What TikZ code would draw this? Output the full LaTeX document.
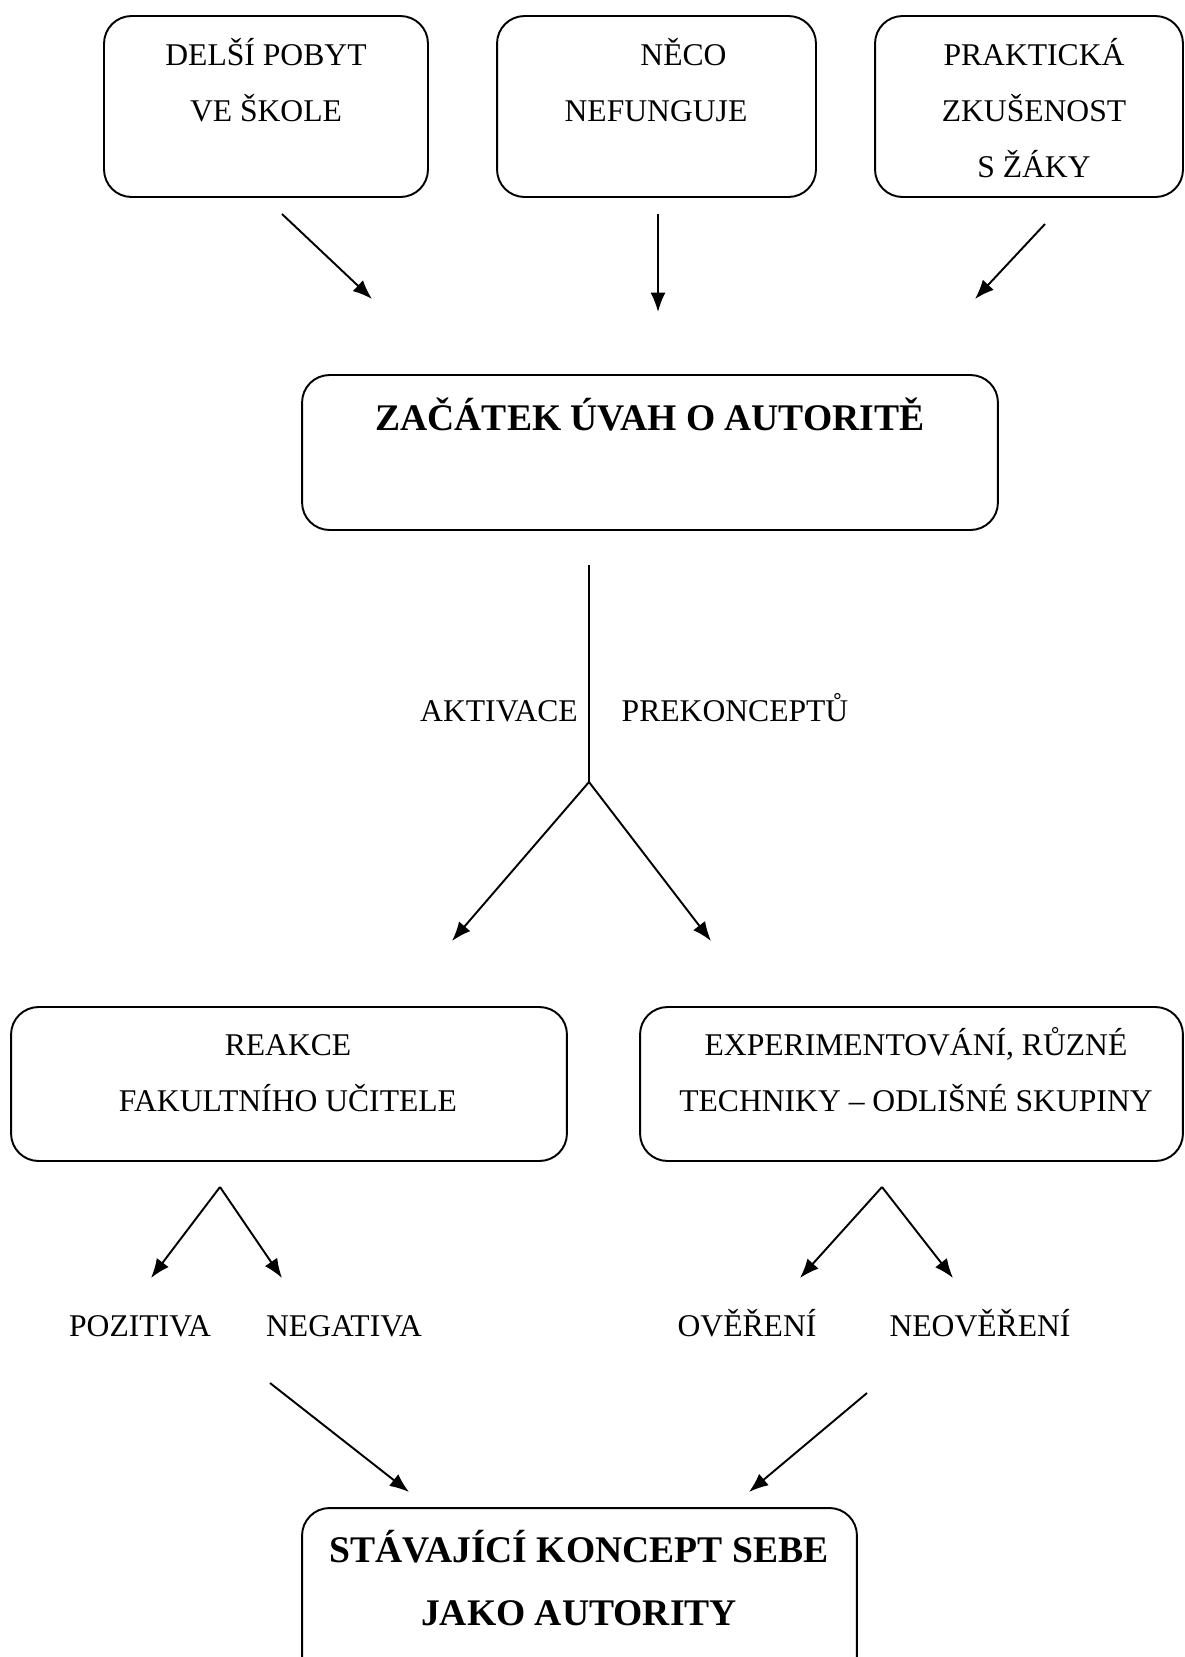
\documentclass[tikz,border=0pt]{standalone}
\usepackage{fontspec}
\setmainfont{Liberation Serif}
\usetikzlibrary{arrows.meta, positioning}
\newcommand{\capstrut}{\rule{0pt}{1.1em}}

\begin{document}
\begin{tikzpicture}[
    x=0.02cm, y=-0.02cm,
    box/.style={draw, line width=1.1pt, rounded corners=0.55cm, minimum height=3.62cm},
    txt/.style={anchor=north, inner sep=0pt, align=center, font=\fontsize{18}{31.9}\selectfont},
    head/.style={anchor=north, inner sep=0pt, align=center, font=\bfseries\fontsize{21.4}{36}\selectfont},
    arrow/.style={-{Latex[length=11pt, width=8.5pt]}, line width=1.1pt},
    line/.style={line width=1.1pt}
  ]
    \path[use as bounding box, clip] (0,0) rectangle (1184,1657);

    % Sources
    \node[box, minimum width=6.48cm] (pobyt) at (266,106.5) {};
    \node[box, minimum width=6.38cm] (nefunguje) at (656.5,106.5) {};
    \node[box, minimum width=6.16cm] (zkusenost) at (1029,106.5) {};
    \node[txt] (pobytT) at (266,30) {\capstrut DELŠÍ POBYT\\VE ŠKOLE};
    \node[txt] (nefungujeT) at (656,30) {\capstrut\hspace*{1.1cm}NĚCO\\NEFUNGUJE};
    \node[txt] (zkusenostT) at (1034,30) {\capstrut PRAKTICKÁ\\ZKUŠENOST\\S ŽÁKY};

    % Start
    \node[box, minimum width=13.92cm, minimum height=3.1cm] (zacatek) at (650,452.5) {};
    \node[head] (zacatekT) at (650,388.5) {\capstrut ZAČÁTEK ÚVAH O AUTORITĚ};

    \coordinate (p1s) at (282,214);
    \coordinate (p1e) at (372,299);
    \coordinate (p2s) at (658,214);
    \coordinate (p2e) at (658,312);
    \coordinate (p3s) at (1045,224);
    \coordinate (p3e) at (975,299);
    \draw[arrow] (p1s) -- (p1e);
    \draw[arrow] (p2s) -- (p2e);
    \draw[arrow] (p3s) -- (p3e);

    % Preconcepts
    \coordinate (stem) at (589,565);
    \coordinate (fork) at (589,782);
    \coordinate (forkL) at (452,941);
    \coordinate (forkR) at (711,941);
    \draw[line] (stem) -- (fork);
    \draw[arrow] (fork) -- (forkL);
    \draw[arrow] (fork) -- (forkR);
    \node[txt] (aktivace) at (499,686) {\capstrut AKTIVACE};
    \node[txt] (prekoncepty) at (735,686) {\capstrut PREKONCEPTŮ};

    % Two ways
    \node[box, minimum width=11.12cm, minimum height=3.08cm] (reakce) at (289,1084) {};
    \node[box, minimum width=10.86cm, minimum height=3.08cm] (experiment) at (911.5,1084) {};
    \node[txt] (reakceT) at (288,1020) {\capstrut REAKCE\\FAKULTNÍHO UČITELE};
    \node[txt] (experimentT) at (916,1020) {\capstrut EXPERIMENTOVÁNÍ, RŮZNÉ\\TECHNIKY – ODLIŠNÉ SKUPINY};

    \coordinate (apexL) at (220,1187);
    \coordinate (pozE) at (151,1278);
    \coordinate (negE) at (282,1278);
    \coordinate (apexR) at (882,1187);
    \coordinate (overE) at (800,1278);
    \coordinate (neoverE) at (953,1278);
    \draw[arrow] (apexL) -- (pozE);
    \draw[arrow] (apexL) -- (negE);
    \draw[arrow] (apexR) -- (overE);
    \draw[arrow] (apexR) -- (neoverE);

    \node[txt] (pozitiva) at (140,1301) {\capstrut POZITIVA};
    \node[txt] (negativa) at (344,1301) {\capstrut NEGATIVA};
    \node[txt] (overeni) at (747,1301) {\capstrut OVĚŘENÍ};
    \node[txt] (neovereni) at (980,1301) {\capstrut NEOVĚŘENÍ};

    % Result
    \node[box, minimum width=11.1cm, minimum height=3.64cm] (koncept) at (579.5,1599) {};
    \node[head] (konceptT) at (579,1520.5) {\capstrut STÁVAJÍCÍ KONCEPT SEBE\\JAKO AUTORITY};

    \coordinate (botLs) at (270,1383);
    \coordinate (botLe) at (409,1492);
    \coordinate (botRs) at (867,1393);
    \coordinate (botRe) at (749,1492);
    \draw[arrow] (botLs) -- (botLe);
    \draw[arrow] (botRs) -- (botRe);
  \end{tikzpicture}
\end{document}
